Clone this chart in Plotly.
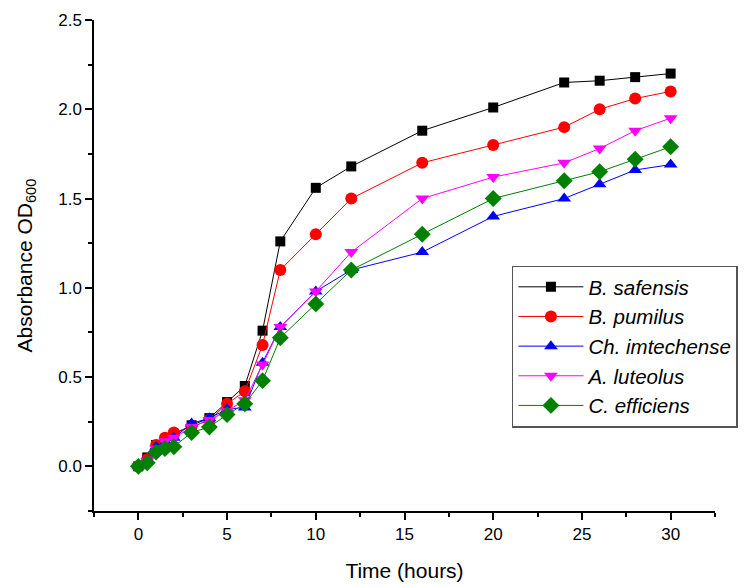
import plotly.graph_objects as go

time_h = [0, 0.5, 1, 1.5, 2, 3, 4, 5, 6, 7, 8, 10, 12, 16, 20, 24, 26, 28, 30]
b_safensis = [0, 0.05, 0.12, 0.15, 0.18, 0.23, 0.27, 0.36, 0.45, 0.76, 1.26, 1.56, 1.68, 1.88, 2.01, 2.15, 2.16, 2.18, 2.20]
b_pumilus = [0, 0.04, 0.12, 0.16, 0.19, 0.22, 0.26, 0.35, 0.42, 0.68, 1.10, 1.30, 1.50, 1.70, 1.80, 1.90, 2.00, 2.06, 2.10]
ch_imtechense = [0, 0.03, 0.11, 0.13, 0.16, 0.24, 0.27, 0.32, 0.33, 0.58, 0.78, 0.98, 1.10, 1.20, 1.40, 1.50, 1.58, 1.66, 1.69]
a_luteolus = [0, 0.03, 0.10, 0.14, 0.16, 0.22, 0.26, 0.31, 0.37, 0.57, 0.78, 0.98, 1.20, 1.50, 1.62, 1.70, 1.78, 1.88, 1.95]
c_efficiens = [0, 0.02, 0.08, 0.10, 0.11, 0.19, 0.22, 0.29, 0.35, 0.48, 0.72, 0.91, 1.10, 1.30, 1.50, 1.60, 1.65, 1.72, 1.79]

series = [
    ("<i>B. safensis</i>", b_safensis, "#000000", "square", 10),
    ("<i>B. pumilus</i>", b_pumilus, "#ff0000", "circle", 12),
    ("<i>Ch. imtechense</i>", ch_imtechense, "#0000ff", "triangle-up", 12),
    ("<i>A. luteolus</i>", a_luteolus, "#ff00ff", "triangle-down", 12),
    ("<i>C. efficiens</i>", c_efficiens, "#008000", "diamond", 13),
]

fig = go.Figure()
for name, vals, col, sym, sz in series:
    fig.add_trace(go.Scatter(
        x=time_h, y=vals, name=name, mode="lines+markers",
        line=dict(color=col, width=1),
        marker=dict(symbol=sym, size=sz, color=col, line=dict(width=0)),
    ))

font_family = "Liberation Sans, Arial, sans-serif"
fig.update_layout(
    width=753, height=587,
    margin=dict(l=94, r=38, t=20, b=76),
    plot_bgcolor="white", paper_bgcolor="white",
    font=dict(family=font_family, size=17, color="black"),
    showlegend=True,
    legend=dict(
        x=0.673, y=0.5, xanchor="left", yanchor="top",
        bordercolor="#555555", borderwidth=1.5, bgcolor="white",
        font=dict(size=20.5, family=font_family),
        itemwidth=65, tracegroupgap=0,
    ),
    xaxis=dict(
        range=[-2.5, 32.5], tickmode="linear", tick0=0, dtick=5, automargin=False,
        showgrid=False, zeroline=False, showline=True, linecolor="black", linewidth=1.5,
        ticks="outside", ticklen=7, tickwidth=1.5, tickcolor="black",
        minor=dict(dtick=2.5, tick0=0, ticks="outside", ticklen=4, tickwidth=1.5, tickcolor="black", showgrid=False),
        title=dict(text="Time (hours)", font=dict(size=21), standoff=20),
        tickfont=dict(size=17),
    ),
    yaxis=dict(
        range=[-0.25, 2.5], tickmode="linear", tick0=0, dtick=0.5, tickformat=".1f", automargin=False,
        showgrid=False, zeroline=False, showline=True, linecolor="black", linewidth=1.5,
        ticks="outside", ticklen=7, tickwidth=1.5, tickcolor="black",
        minor=dict(dtick=0.25, tick0=0, ticks="outside", ticklen=4, tickwidth=1.5, tickcolor="black", showgrid=False),
        title=dict(text="Absorbance OD<sub>600</sub>", font=dict(size=21), standoff=20),
        tickfont=dict(size=17),
    ),
)

fig.write_html("out.html")
